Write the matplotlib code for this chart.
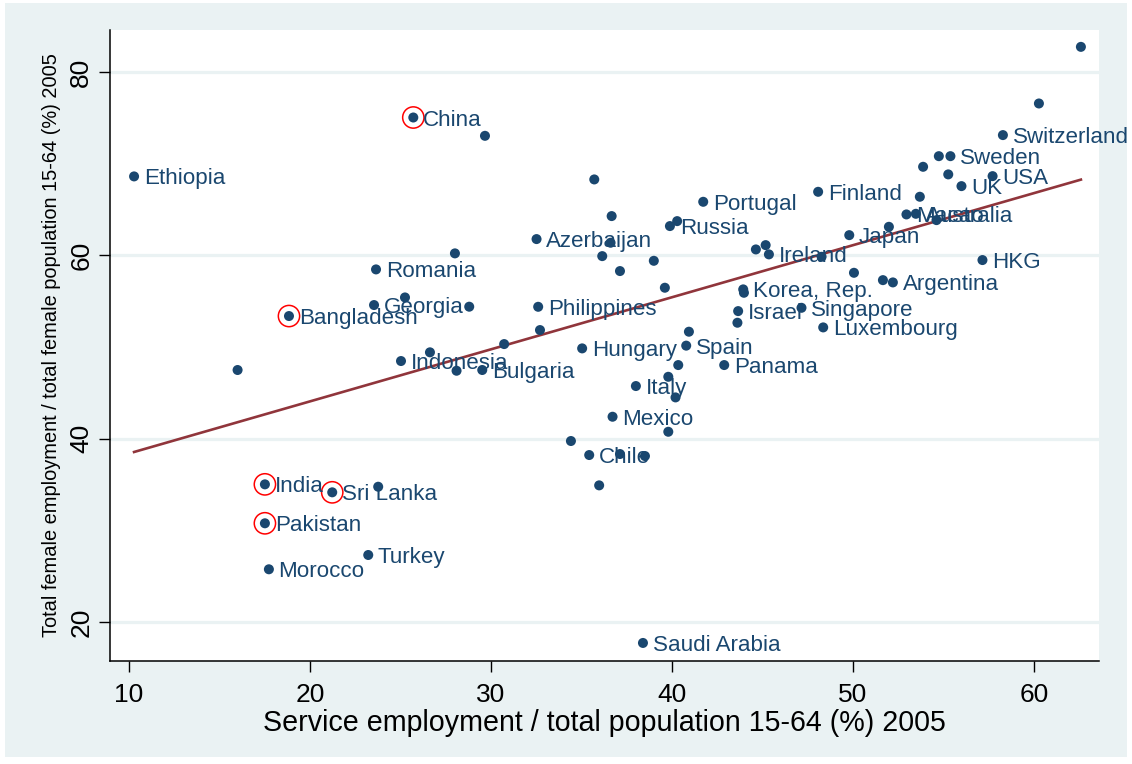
import matplotlib.pyplot as plt
import numpy as np
from matplotlib.patches import Rectangle

plt.rcParams['font.family'] = ['Liberation Sans', 'DejaVu Sans']

# service employment share (x) and female employment rate (y), 2005
country = ['Ethiopia', '', 'Bangladesh', 'India', 'Pakistan', 'Morocco',
           'Sri Lanka', '', 'Turkey', 'Romania', 'Georgia', '', 'China', '',
           '', '', 'Indonesia', '', '', 'Bulgaria', '', 'Azerbaijan',
           'Philippines', '', 'Hungary', '', '', '', '', '', '', '',
           'Russia', '', 'Portugal', '', 'Spain', '', 'Panama', '', 'Italy',
           '', 'Mexico', '', '', 'Chile', '', '', '', 'Saudi Arabia',
           'Israel', '', 'Korea, Rep.', '', 'Singapore', 'Luxembourg', '', '',
           'Ireland', '', '', '', 'Argentina', 'Japan', '', 'Finland', 'Macao',
           'Australia', '', '', '', '', 'Sweden', '', 'UK', 'USA',
           'Switzerland', 'HKG', '', '']
service = [10.28, 16.0, 18.84, 17.51, 17.51, 17.73,
           21.23, 23.77, 23.22, 23.65, 23.54, 25.25, 25.71, 29.67,
           28.01, 28.8, 25.03, 26.63, 28.10, 29.52, 30.73, 32.52,
           32.61, 32.71, 35.04, 35.71, 36.67, 36.61, 36.15, 37.13, 39.0, 39.61,
           39.89, 40.29, 41.73, 40.94, 40.79, 40.35, 42.89, 39.8, 38.01,
           40.2, 36.72, 39.8, 34.42, 35.43, 37.13, 38.51, 35.98, 38.4,
           43.66, 43.62, 43.94, 43.98, 47.16, 48.36, 44.64, 45.18,
           45.36, 48.27, 50.06, 51.66, 52.21, 49.8, 51.99, 48.08, 52.96,
           53.48, 54.62, 53.7, 53.88, 54.75, 55.39, 55.27, 56.0, 57.72,
           58.29, 57.16, 60.28, 62.6]
female = [68.62, 47.49, 53.38, 35.01, 30.76, 25.74,
          34.14, 34.75, 27.30, 58.47, 54.58, 55.41, 75.05, 73.05,
          60.22, 54.40, 48.47, 49.42, 47.41, 47.49, 50.32, 61.78,
          54.39, 51.85, 49.85, 68.29, 64.29, 61.38, 59.92, 58.29, 59.41, 56.47,
          63.20, 63.74, 65.85, 51.67, 50.15, 48.03, 48.03, 46.75, 45.74,
          44.5, 42.39, 40.75, 39.74, 38.21, 38.32, 38.10, 34.90, 17.70,
          53.92, 52.65, 56.29, 55.92, 54.28, 52.14, 60.65, 61.12,
          60.11, 59.85, 58.10, 57.30, 57.05, 62.21, 63.12, 66.94, 64.47,
          64.54, 63.85, 66.40, 69.67, 70.83, 70.83, 68.84, 67.56, 68.65,
          73.13, 59.49, 76.58, 82.76]
circled = ['China', 'Bangladesh', 'India', 'Sri Lanka', 'Pakistan']

yticks = [20, 40, 60, 80]
xticks = [10, 20, 30, 40, 50, 60]

navy = '#1A476F'
maroon = '#90353B'
bg = '#EAF2F3'

x = np.array(service)
y = np.array(female)

fig = plt.figure(figsize=(11.32, 7.64), dpi=100, facecolor='white')
fig.patches.append(Rectangle((5 / 1132, 7 / 764), 1122 / 1132, 754 / 764,
                             transform=fig.transFigure, facecolor=bg,
                             edgecolor='none', zorder=-10))
ax = fig.add_axes([110 / 1132, 103 / 764, 989 / 1132, 631 / 764])
ax.set_facecolor('white')

ax.set_xlim(8.95, 63.6)
ax.set_ylim(15.73, 84.6)

for t in yticks:
    ax.axhline(t, color=bg, lw=2.3, zorder=0)

# linear fit over the observed x range
slope, icpt = np.polyfit(x, y, 1)
xf = np.array([x.min(), x.max()])
ax.plot(xf, icpt + slope * xf, color=maroon, lw=1.9, zorder=2)

ax.scatter(x, y, s=52, color=navy, edgecolors='none', zorder=3)

hl = np.isin(country, circled)
ax.scatter(x[hl], y[hl], s=235, facecolors='none', edgecolors='red',
           linewidths=1.1, zorder=4)

for name, xi, yi in zip(country, x, y):
    if name:
        ax.annotate(name, (xi, yi), xytext=(7, -5.8), textcoords='offset points',
                    ha='left', va='baseline', fontsize=16.1, color=navy,
                    zorder=5)

ax.set_xticks(xticks)
ax.set_yticks(yticks)
ax.tick_params(axis='both', direction='out', length=8, width=1, labelsize=19)
ax.tick_params(axis='x', pad=8)
ax.tick_params(axis='y', pad=4)
for lab in ax.get_yticklabels():
    lab.set_rotation(90)
    lab.set_va('center')

for side in ['top', 'right']:
    ax.spines[side].set_visible(False)
ax.spines['left'].set_linewidth(1.1)
ax.spines['bottom'].set_linewidth(1.1)

ax.set_xlabel('Service employment / total population 15-64 (%) 2005',
              fontsize=20.6, labelpad=1)
ax.set_ylabel('Total female employment / total female population 15-64 (%) 2005',
              fontsize=14.4, labelpad=6)

fig.savefig('out.png', dpi=100, facecolor=fig.get_facecolor())
